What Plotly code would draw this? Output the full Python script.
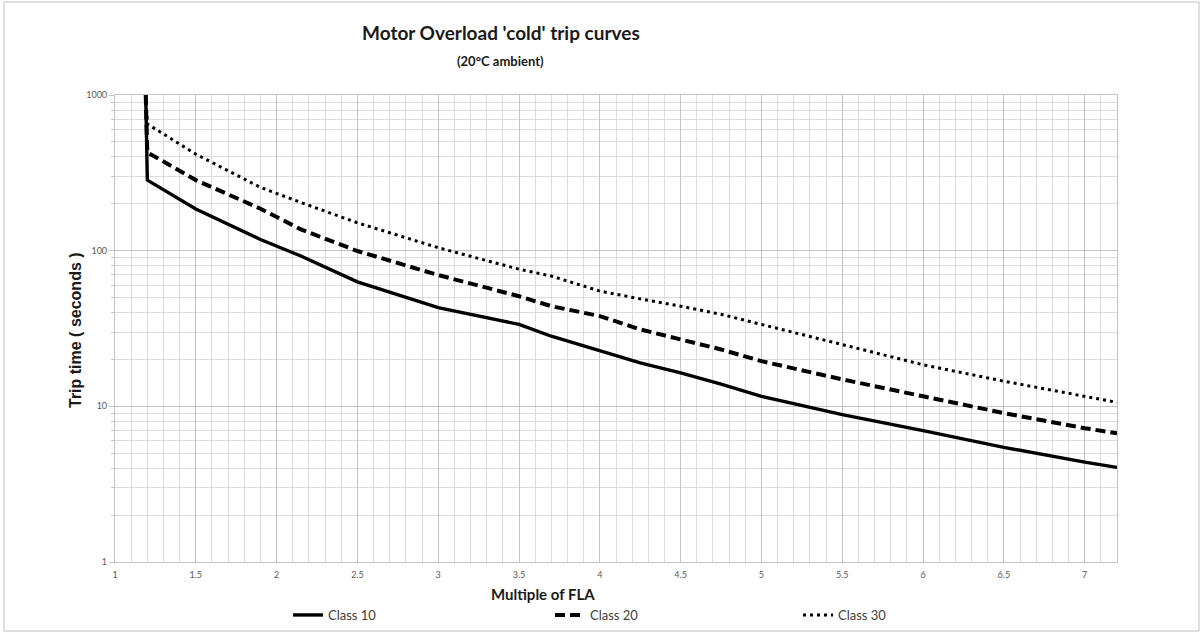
import plotly.graph_objects as go

# Multiples of FLA
x_fla = [1.19, 1.2, 1.5, 1.9, 2.15, 2.5, 3.0, 3.5, 3.7, 4.0, 4.25, 4.5, 4.75, 5.0, 5.5, 6.0, 6.5, 7.0, 7.2]
# Trip times (seconds)
class10 = [1000, 284, 185, 118, 92.5, 63, 43, 33.6, 28.2, 22.6, 19.0, 16.4, 13.9, 11.6, 8.84, 6.98, 5.45, 4.38, 4.05]
class20 = [1000, 428, 284, 186, 137, 99.5, 69.7, 51, 44, 38, 31.2, 26.9, 23.2, 19.5, 14.9, 11.6, 9.05, 7.24, 6.72]
class30 = [1000, 652, 417, 255, 204, 151, 104.5, 76, 68.7, 55, 49, 44, 39, 33.6, 25, 18.5, 14.5, 11.6, 10.6]
series_names = ["Class 10", "Class 20", "Class 30"]
x_ticks = [1, 1.5, 2, 2.5, 3, 3.5, 4, 4.5, 5, 5.5, 6, 6.5, 7]
y_ticks = [1, 10, 100, 1000]

W, H = 1203, 634
ML, MR, MT, MB = 115, 86, 95, 72
PW, PH = W - ML - MR, H - MT - MB

def px_x(p):
    return (p - ML) / PW

def px_y(p):
    return (H - MB - p) / PH

fig = go.Figure()
styles = [
    dict(color="black", width=3.4, dash="solid"),
    dict(color="black", width=4, dash="10px,5px"),
    dict(color="black", width=3, dash="3px,4px"),
]
legend_ids = ["legend", "legend2", "legend3"]
legend_text_x = [328, 590, 838]
for name, vals, st, lid in zip(series_names, [class10, class20, class30], styles, legend_ids):
    fig.add_trace(go.Scatter(x=x_fla, y=vals, mode="lines", name=name, line=st, legend=lid))

legfont = dict(family="Lato, Open Sans, sans-serif", size=13, color="#404040")
legends = {}
for lid, tx in zip(legend_ids, legend_text_x):
    legends[lid] = dict(orientation="h", x=px_x(tx - 40), y=px_y(615), xanchor="left",
                        yanchor="middle", font=legfont, bgcolor="rgba(0,0,0,0)")

tickfont = dict(family="Lato, Open Sans, sans-serif", size=9, color="#595959")
fig.update_layout(
    width=W, height=H,
    margin=dict(l=ML, r=MR, t=MT, b=MB, autoexpand=False),
    paper_bgcolor="white", plot_bgcolor="white",
    showlegend=True,
    xaxis=dict(range=[1, 7.2], tickvals=x_ticks, showgrid=True, gridcolor="#c4c4c4", gridwidth=1.2,
               minor=dict(dtick=0.1, tick0=1, showgrid=True, gridcolor="#dcdcdc", gridwidth=1),
               showline=True, linecolor="#c4c4c4", linewidth=1.2, ticks="", zeroline=False,
               tickfont=tickfont, mirror=True, ticklabelstandoff=4),
    yaxis=dict(type="log", range=[0, 3], tickvals=y_ticks, ticktext=[str(v) for v in y_ticks],
               showgrid=True, gridcolor="#c4c4c4", gridwidth=1.2,
               minor=dict(dtick="D1", showgrid=True, gridcolor="#dcdcdc", gridwidth=1,
                          ticks="outside", ticklen=3, tickcolor="#c4c4c4"),
               showline=True, linecolor="#c4c4c4", linewidth=1.2, ticks="outside", ticklen=5,
               tickcolor="#c4c4c4", tickfont=tickfont, mirror=True),
    annotations=[
        dict(text="<b>Motor Overload 'cold' trip curves</b>", xref="paper", yref="paper",
             x=px_x(501), y=px_y(32), showarrow=False, xanchor="center", yanchor="middle",
             font=dict(family="Lato, Open Sans, sans-serif", size=19, color="#1a1a1a")),
        dict(text="<b>(20°C ambient)</b>", xref="paper", yref="paper",
             x=px_x(500), y=px_y(61), showarrow=False, xanchor="center", yanchor="middle",
             font=dict(family="Lato, Open Sans, sans-serif", size=13, color="#1a1a1a")),
        dict(text="<b>Multiple of FLA</b>", xref="paper", yref="paper",
             x=px_x(543), y=px_y(594), showarrow=False, xanchor="center", yanchor="middle",
             font=dict(family="Lato, Open Sans, sans-serif", size=15, color="#1a1a1a")),
        dict(text="<b>Trip time ( seconds )</b>", xref="paper", yref="paper", textangle=-90,
             x=px_x(75), y=px_y(330), showarrow=False, xanchor="center", yanchor="middle",
             font=dict(family="Liberation Sans, Arial, sans-serif", size=16, color="#1a1a1a")),
    ],
    shapes=[
        dict(type="rect", xref="paper", yref="paper", x0=px_x(4), x1=px_x(1199),
             y0=px_y(631), y1=px_y(2), line=dict(color="#bfbfbf", width=1), layer="below"),
    ],
    **legends,
)

fig.write_html("out.html", config={"displayModeBar": False},
               post_script="document.body.style.margin='0';")
